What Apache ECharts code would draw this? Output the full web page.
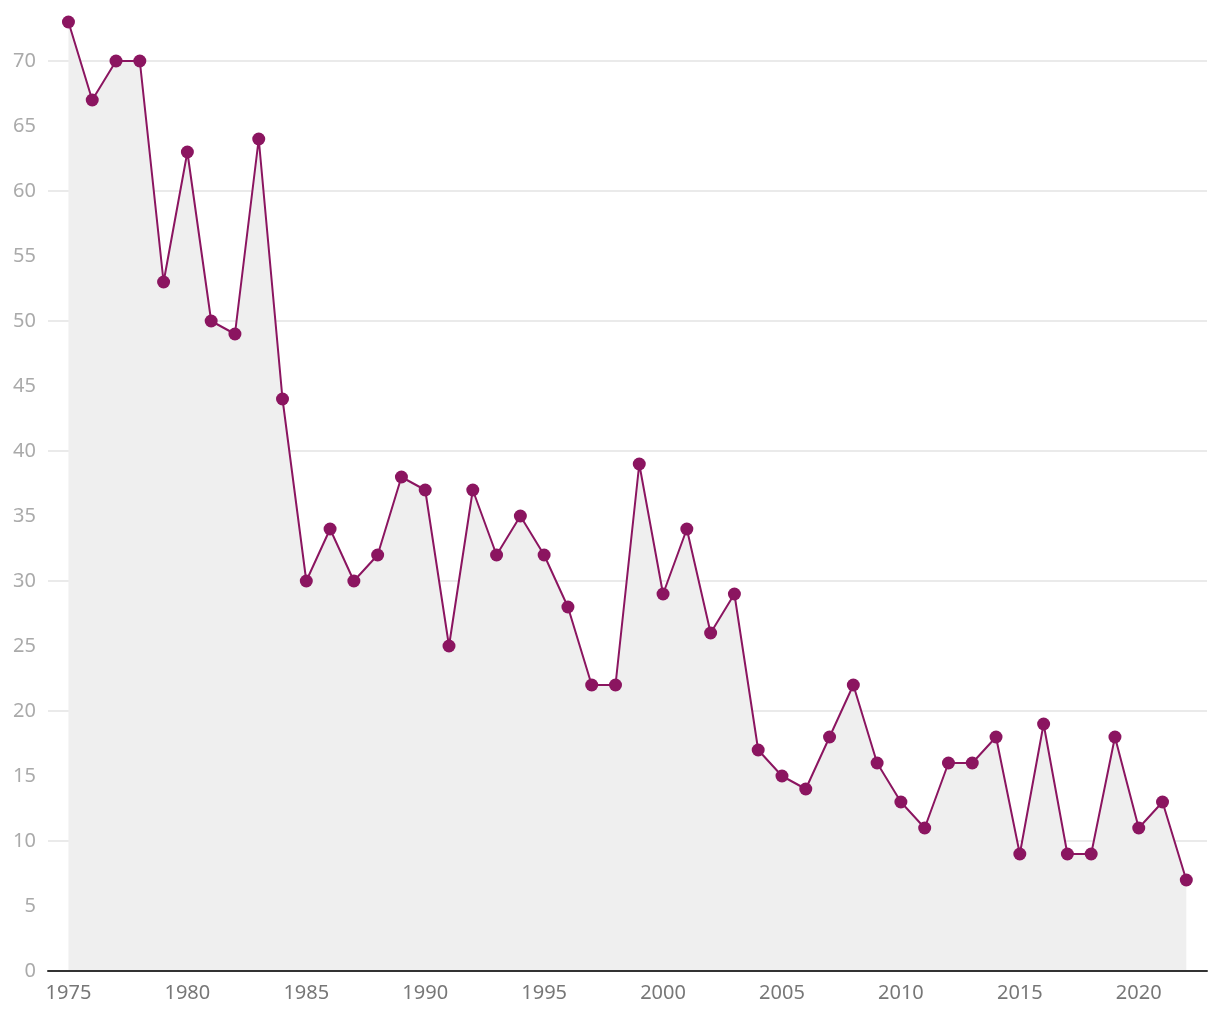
<!DOCTYPE html>
<html><head><meta charset="utf-8">
<script src="https://cdn.jsdelivr.net/npm/echarts@6/dist/echarts.min.js"></script>
<style>html,body{margin:0;padding:0;background:#fff}#c{width:1220px;height:1020px}</style>
</head><body><div id="c"></div>
<script>
const years = [1975,1976,1977,1978,1979,1980,1981,1982,1983,1984,1985,1986,1987,1988,1989,1990,1991,1992,1993,1994,1995,1996,1997,1998,1999,2000,2001,2002,2003,2004,2005,2006,2007,2008,2009,2010,2011,2012,2013,2014,2015,2016,2017,2018,2019,2020,2021,2022];
const values = [73,67,70,70,53,63,50,49,64,44,30,34,30,32,38,37,25,37,32,35,32,28,22,22,39,29,34,26,29,17,15,14,18,22,16,13,11,16,16,18,9,19,9,9,18,11,13,7];
const xTicks = [1975,1980,1985,1990,1995,2000,2005,2010,2015,2020];
const yTicks = [0,5,10,15,20,25,30,35,40,45,50,55,60,65,70];

const FONT = 'Noto Sans';
const chart = echarts.init(document.getElementById('c'));
chart.setOption({
  animation: false,
  grid: {left: 48, right: 13, top: 9, bottom: 49},
  xAxis: {
    type: 'value', min: 1974.14, max: 2022.87, z: 10,
    axisLine: {show: true, lineStyle: {color: '#333', width: 2}},
    axisTick: {show: false},
    splitLine: {show: false},
    axisLabel: {customValues: xTicks, color: '#777', fontSize: 20, fontFamily: FONT, margin: 12, formatter: v => String(v)}
  },
  yAxis: {
    type: 'value', min: 0, max: 74,
    axisLine: {show: false}, axisTick: {show: false},
    splitLine: {show: true, showMaxLine: false, lineStyle: {color: '#e3e3e3', width: 1.5}},
    axisLabel: {customValues: yTicks, color: '#aaa', fontSize: 20, fontFamily: FONT, margin: 12}
  },
  series: [{
    type: 'line',
    data: years.map((y, i) => [y, values[i]]),
    symbol: 'circle', symbolSize: 13,
    lineStyle: {color: '#8b1560', width: 2},
    itemStyle: {color: '#8b1560'},
    areaStyle: {color: '#efefef', opacity: 1},
    z: 3
  }]
});
</script></body></html>
